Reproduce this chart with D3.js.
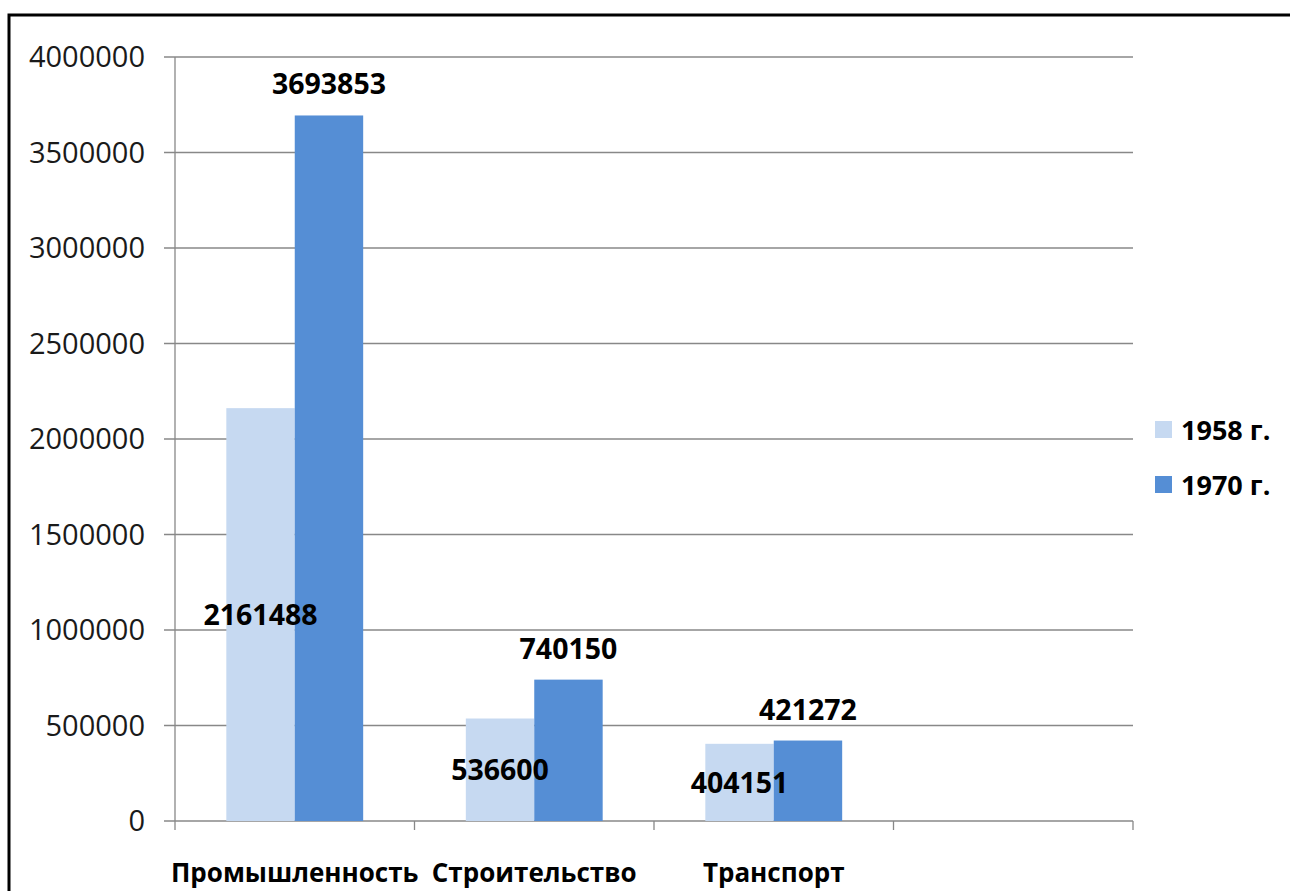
<!DOCTYPE html>
<html>
<head>
<meta charset="utf-8">
<script src="https://cdn.jsdelivr.net/npm/d3@7"></script>
<style>
  body { margin: 0; background: #fff; }
  svg { display: block; font-family: "Open Sans", sans-serif; }
</style>
</head>
<body>
<div id="chart"></div>
<script>
'use strict';
var categories = ['Промышленность', 'Строительство', 'Транспорт', ''];
var seriesNames = ['1958 г.', '1970 г.'];
var values1958 = [2161488, 536600, 404151, null];
var values1970 = [3693853, 740150, 421272, null];
var yTicks = [0, 500000, 1000000, 1500000, 2000000, 2500000, 3000000, 3500000, 4000000];

var colors = ['#c6d9f1', '#558ed5'];
var width = 1290, height = 891;
var plotLeft = 175, plotRight = 1133, plotTop = 57, plotBottom = 821;

var svg = d3.select('#chart').append('svg')
  .attr('width', width)
  .attr('height', height);

// frame
svg.append('rect')
  .attr('x', 9).attr('y', 15)
  .attr('width', 1300).attr('height', 900)
  .attr('fill', 'none')
  .attr('stroke', '#000')
  .attr('stroke-width', 3);

var x = d3.scaleBand().domain(d3.range(categories.length)).range([plotLeft, plotRight]);
var y = d3.scaleLinear().domain([0, 4000000]).range([plotBottom, plotTop]);
var barW = x.bandwidth() / 3.5;
var pad = (x.bandwidth() - 2 * barW) / 2;

// gridlines
svg.append('g').selectAll('line')
  .data(yTicks)
  .enter().append('line')
  .attr('x1', plotLeft - 11).attr('x2', plotRight)
  .attr('y1', function(d) { return y(d); })
  .attr('y2', function(d) { return y(d); })
  .attr('stroke', '#888')
  .attr('stroke-width', 1.3);

// y axis line
svg.append('line')
  .attr('x1', plotLeft).attr('x2', plotLeft)
  .attr('y1', plotTop).attr('y2', plotBottom + 9)
  .attr('stroke', '#888').attr('stroke-width', 1.3);

// category ticks
svg.append('g').selectAll('line')
  .data(d3.range(categories.length))
  .enter().append('line')
  .attr('x1', function(d) { return x(d) + x.bandwidth(); })
  .attr('x2', function(d) { return x(d) + x.bandwidth(); })
  .attr('y1', plotBottom).attr('y2', plotBottom + 9)
  .attr('stroke', '#888').attr('stroke-width', 1.3);

// y tick labels
svg.append('g').selectAll('text')
  .data(yTicks)
  .enter().append('text')
  .attr('x', 145)
  .attr('y', function(d) { return y(d); })
  .attr('dy', '0.36em')
  .attr('text-anchor', 'end')
  .attr('font-size', 29)
  .attr('fill', '#1a1a1a')
  .text(function(d) { return d; });

// bars
var series = [values1958, values1970];
series.forEach(function(vals, s) {
  var g = svg.append('g');
  var data = vals.map(function(v, i) { return {i: i, v: v}; }).filter(function(d) { return d.v !== null; });
  g.selectAll('rect')
    .data(data)
    .enter().append('rect')
    .attr('x', function(d) { return x(d.i) + pad + s * barW; })
    .attr('y', function(d) { return y(d.v); })
    .attr('width', barW)
    .attr('height', function(d) { return y(0) - y(d.v); })
    .attr('fill', colors[s]);
});

// labels 1958: inside centre
svg.append('g').selectAll('text')
  .data(values1958.filter(function(v) { return v !== null; }))
  .enter().append('text')
  .attr('x', function(d, i) { return x(i) + pad + barW / 2; })
  .attr('y', function(d) { return (y(d) + y(0)) / 2; })
  .attr('dy', '0.36em')
  .attr('text-anchor', 'middle')
  .attr('font-size', 28.5)
  .attr('font-weight', 'bold')
  .attr('fill', '#000')
  .text(function(d) { return d; });

// labels 1970: outside end
svg.append('g').selectAll('text')
  .data(values1970.filter(function(v) { return v !== null; }))
  .enter().append('text')
  .attr('x', function(d, i) { return x(i) + pad + barW * 1.5; })
  .attr('y', function(d) { return y(d) - 21; })
  .attr('text-anchor', 'middle')
  .attr('font-size', 28.5)
  .attr('font-weight', 'bold')
  .attr('fill', '#000')
  .text(function(d) { return d; });

// category labels
svg.append('g').selectAll('text')
  .data(categories)
  .enter().append('text')
  .attr('x', function(d, i) { return x(i) + x.bandwidth() / 2; })
  .attr('y', 882)
  .attr('text-anchor', 'middle')
  .attr('font-size', 26)
  .attr('font-weight', 'bold')
  .attr('fill', '#000')
  .text(function(d) { return d; });

// legend
var legend = svg.append('g').selectAll('g')
  .data(seriesNames)
  .enter().append('g')
  .attr('transform', function(d, i) { return 'translate(1155,' + (421 + i * 55) + ')'; });
legend.append('rect')
  .attr('width', 17).attr('height', 17)
  .attr('fill', function(d, i) { return colors[i]; });
legend.append('text')
  .attr('x', 26).attr('y', 9)
  .attr('dy', '0.36em')
  .attr('font-size', 27)
  .attr('font-weight', 'bold')
  .attr('fill', '#000')
  .text(function(d) { return d; });
</script>
</body>
</html>
